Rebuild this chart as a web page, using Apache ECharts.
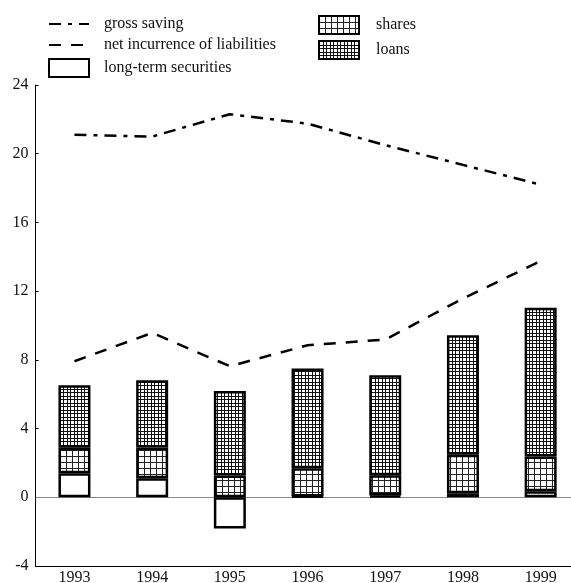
<!DOCTYPE html>
<html>
<head>
<meta charset="utf-8">
<script src="https://cdn.jsdelivr.net/npm/echarts@6/dist/echarts.min.js"></script>
<style>
  html, body { margin: 0; padding: 0; background: #fff; }
  #chart { width: 571px; height: 583px; }
</style>
</head>
<body>
<div id="chart"></div>
<script>
const years = ['1993', '1994', '1995', '1996', '1997', '1998', '1999'];
const longTermSecurities = [1.40, 1.11, -1.81, 0.05, 0.10, 0.23, 0.35];
const shares = [1.48, 1.79, 1.27, 1.64, 1.18, 2.24, 2.02];
const loans = [3.64, 3.91, 4.91, 5.80, 5.82, 6.96, 8.66];
const grossSaving = [21.1, 21.0, 22.3, 21.75, 20.5, 19.35, 18.2];
const netIncurrence = [7.92, 9.57, 7.63, 8.85, 9.18, 11.57, 13.75];

const font = 'Liberation Serif';

// small grid hatch used as bar fill
function gridPattern(cell, offsets, lineColor) {
  const c = document.createElement('canvas');
  c.width = cell;
  c.height = cell;
  const ctx = c.getContext('2d');
  ctx.fillStyle = '#fff';
  ctx.fillRect(0, 0, cell, cell);
  ctx.fillStyle = lineColor;
  offsets.forEach((o) => {
    ctx.fillRect(o, 0, 1, cell);
    ctx.fillRect(0, o, cell, 1);
  });
  return c;
}

const sharesFill = { image: gridPattern(6, [0], '#222'), repeat: 'repeat' };
const loansFill = { image: gridPattern(7, [0, 4], '#111'), repeat: 'repeat' };

const chart = echarts.init(document.getElementById('chart'));

const barBorder = { borderColor: '#000', borderWidth: 2.5 };
const legendText = { fontFamily: font, fontSize: 16, color: '#111' };
const hideSymbol = { opacity: 0 };

const option = {
  animation: false,
  backgroundColor: '#fff',
  textStyle: { fontFamily: font },
  legend: [
    {
      orient: 'vertical',
      left: 48,
      top: 16,
      padding: 0,
      itemWidth: 40,
      itemHeight: 18,
      itemGap: 5,
      textStyle: Object.assign({ padding: [0, 0, 0, 10] }, legendText),
      data: [
        { name: 'gross saving', itemStyle: hideSymbol },
        { name: 'net incurrence of liabilities', itemStyle: hideSymbol },
        { name: 'long-term securities', icon: 'rect' }
      ]
    },
    {
      orient: 'vertical',
      left: 318,
      top: 15,
      padding: 0,
      itemWidth: 40,
      itemHeight: 18,
      itemGap: 5,
      textStyle: Object.assign({ padding: [0, 0, 0, 12] }, legendText),
      data: [
        { name: 'shares', icon: 'rect' },
        { name: 'loans', icon: 'rect' }
      ]
    }
  ],
  // the plot runs a little past the right edge, like the original
  grid: { left: 35.6, right: -8.5, top: 85, bottom: 17, containLabel: false, outerBoundsMode: 'none' },
  xAxis: {
    type: 'category',
    data: years,
    boundaryGap: true,
    axisLine: { onZero: false, lineStyle: { color: '#000', width: 1 } },
    axisTick: { inside: true, length: 4, lineStyle: { color: '#000' } },
    axisLabel: { fontFamily: font, fontSize: 16, color: '#111', margin: 4 }
  },
  yAxis: {
    type: 'value',
    min: -4,
    max: 24,
    interval: 4,
    axisLine: { show: true, lineStyle: { color: '#000', width: 1 } },
    axisTick: { show: true, inside: true, length: 3, lineStyle: { color: '#000' } },
    splitLine: { show: false },
    axisLabel: { fontFamily: font, fontSize: 16, color: '#111', margin: 7 }
  },
  series: [
    {
      name: 'long-term securities',
      type: 'bar',
      stack: 'total',
      barWidth: 32,
      data: longTermSecurities,
      itemStyle: Object.assign({ color: '#fff' }, barBorder),
      markLine: {
        silent: true,
        symbol: 'none',
        label: { show: false },
        lineStyle: { color: '#888', width: 1, type: 'solid' },
        data: [{ yAxis: 0 }],
        z: 1
      }
    },
    {
      name: 'shares',
      type: 'bar',
      stack: 'total',
      barWidth: 32,
      data: shares,
      itemStyle: Object.assign({ color: sharesFill }, barBorder)
    },
    {
      name: 'loans',
      type: 'bar',
      stack: 'total',
      barWidth: 32,
      data: loans,
      itemStyle: Object.assign({ color: loansFill }, barBorder)
    },
    {
      name: 'gross saving',
      type: 'line',
      data: grossSaving,
      symbol: 'none',
      showSymbol: false,
      lineStyle: { color: '#000', width: 2.5, type: [12, 7, 4, 7] },
      itemStyle: { color: '#000' }
    },
    {
      name: 'net incurrence of liabilities',
      type: 'line',
      data: netIncurrence,
      symbol: 'none',
      showSymbol: false,
      lineStyle: { color: '#000', width: 2.5, type: [12, 10] },
      itemStyle: { color: '#000' }
    }
  ]
};

chart.setOption(option);
</script>
</body>
</html>
